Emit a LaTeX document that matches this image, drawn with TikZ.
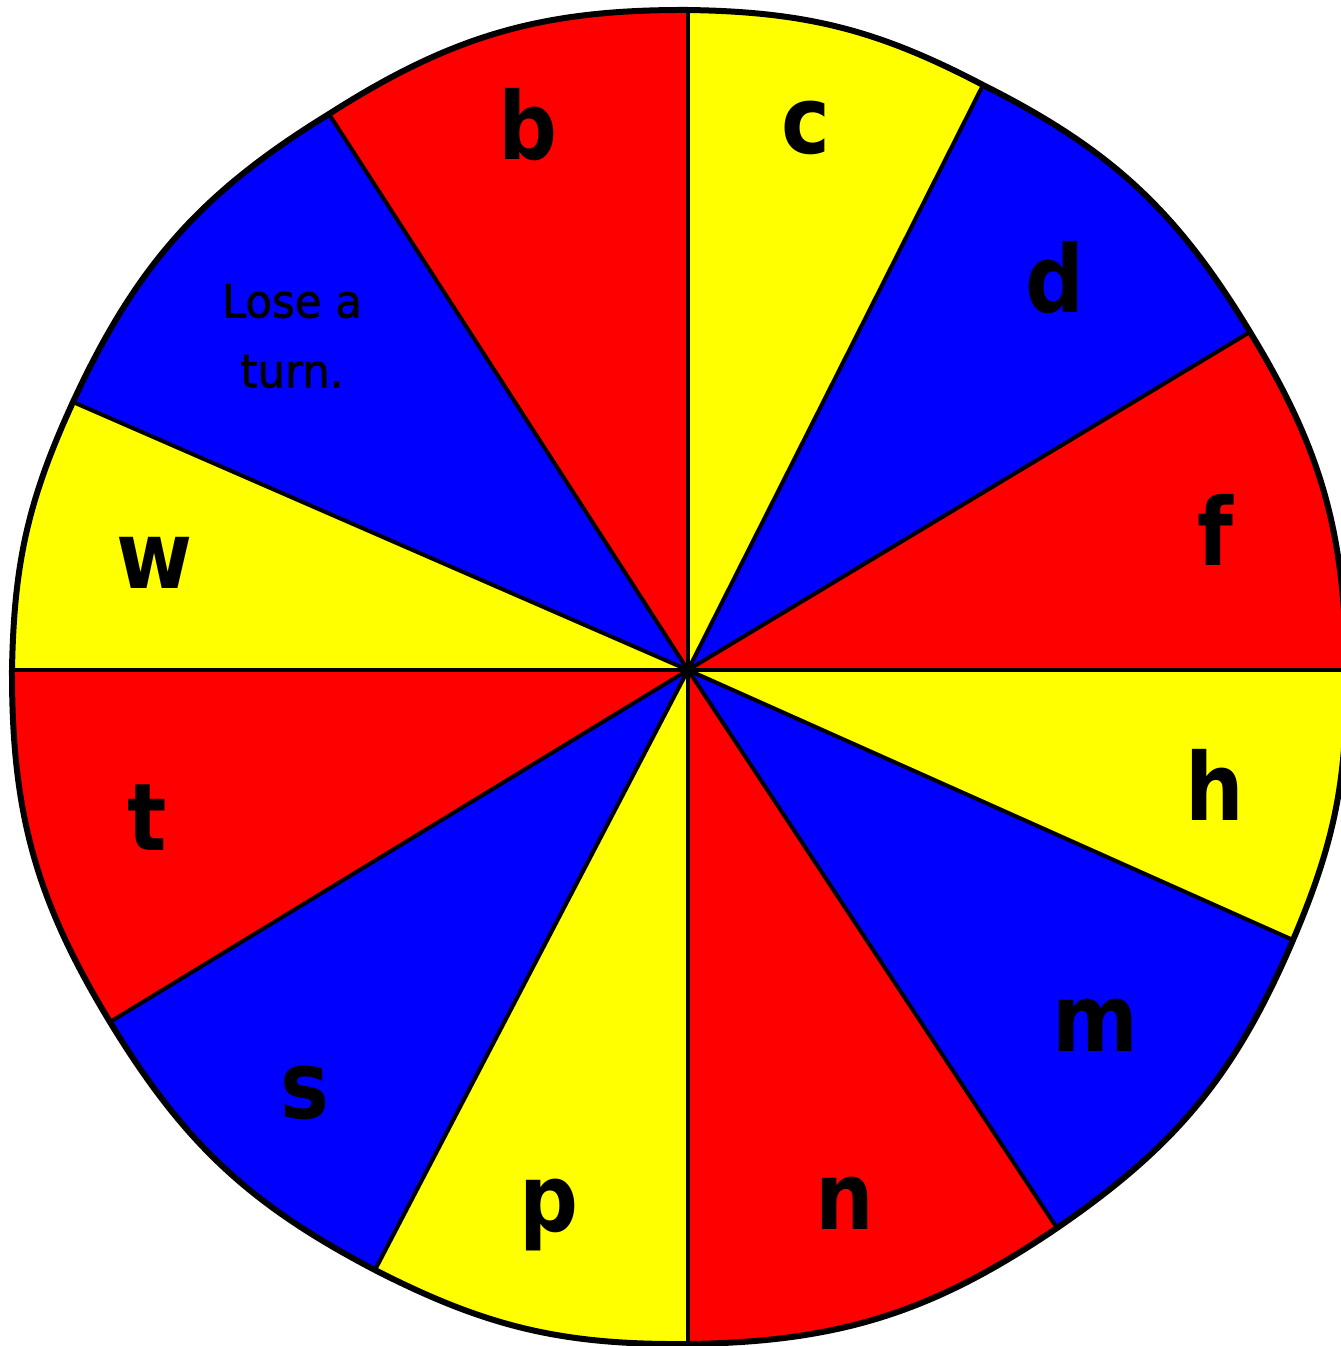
\documentclass[tikz,border=0pt]{standalone}
\usepackage{fontspec}
\setmainfont{DejaVu Sans}
\newfontfamily\letterfont{DejaVu Sans Bold}[FakeStretch=0.88]
\newfontfamily\smallfont{DejaVu Sans}[FakeStretch=0.95, FakeBold=1.5]
\definecolor{wred}{RGB}{255,0,0}
\definecolor{wyel}{RGB}{255,255,0}
\definecolor{wblue}{RGB}{0,0,255}
\tikzset{
  letter/.style={font=\fontsize{94}{100}\letterfont, text=black, inner sep=0pt},
  small/.style={font=\fontsize{46}{70}\smallfont, text=black, inner sep=0pt, align=center},
  spoke/.style={line width=4bp, black},
  rim/.style={line width=6bp, black, line join=round},
}
\begin{document}
\begin{tikzpicture}[x=1bp,y=-1bp]
\useasboundingbox (0,0) rectangle (1341,1346);
\coordinate (C) at (688,670);
\coordinate (R0) at (1346,670);
\coordinate (R1) at (1250,332);
\coordinate (R2) at (983,85);
\coordinate (R3) at (688,10);
\coordinate (R4) at (329,114);
\coordinate (R5) at (73,402);
\coordinate (R6) at (12,670);
\coordinate (R7) at (110,1022);
\coordinate (R8) at (375,1270);
\coordinate (R9) at (688,1344);
\coordinate (R10) at (1057,1228);
\coordinate (R11) at (1293,940);
\begin{scope}
\clip (0,0) rectangle (1341,1346);
\fill[wred]  (C) -- (R0) to[bend right=15.5] (R1) -- cycle;
\fill[wblue] (C) -- (R1) to[bend right=16.1] (R2) -- cycle;
\fill[wyel]  (C) -- (R2) to[bend right=13.4] (R3) -- cycle;
\fill[wred]  (C) -- (R3) to[bend right=16.4] (R4) -- cycle;
\fill[wblue] (C) -- (R4) to[bend right=16.8] (R5) -- cycle;
\fill[wyel]  (C) -- (R5) to[bend right=11.8] (R6) -- cycle;
\fill[wred]  (C) -- (R6) to[bend right=15.7] (R7) -- cycle;
\fill[wblue] (C) -- (R7) to[bend right=15.5] (R8) -- cycle;
\fill[wyel]  (C) -- (R8) to[bend right=13.8] (R9) -- cycle;
\fill[wred]  (C) -- (R9) to[bend right=16.7] (R10) -- cycle;
\fill[wblue] (C) -- (R10) to[bend right=16.2] (R11) -- cycle;
\fill[wyel]  (C) -- (R11) to[bend right=12.0] (R0) -- cycle;
\foreach \i in {0,...,11}
  \draw[spoke] (C) -- (R\i);
\draw[rim] (R0) to[bend right=15.5] (R1) to[bend right=16.1] (R2)
  to[bend right=13.4] (R3) to[bend right=16.4] (R4) to[bend right=16.8] (R5)
  to[bend right=11.8] (R6) to[bend right=15.7] (R7) to[bend right=15.5] (R8)
  to[bend right=13.8] (R9) to[bend right=16.7] (R10) to[bend right=16.2] (R11)
  to[bend right=12.0] (R0);
\end{scope}
\node[letter] (lb) at (528,125) {b};
\node[letter] (lc) at (806,128) {c};
\node[letter] (ld) at (1055,278) {d};
\node[letter] (lf) at (1215,530) {f};
\node[letter] (lh) at (1215,785) {h};
\node[letter] (lm) at (1095,1025) {m};
\node[letter] (ln) at (845,1203) {n};
\node[letter] (lp) at (549,1215) {p};
\node[letter] (ls) at (305,1093) {s};
\node[letter] (lt) at (147,818) {t};
\node[letter] (lw) at (155,563) {w};
\node[small] (lose) at (292,336) {Lose a\\turn.};
\end{tikzpicture}
\end{document}
